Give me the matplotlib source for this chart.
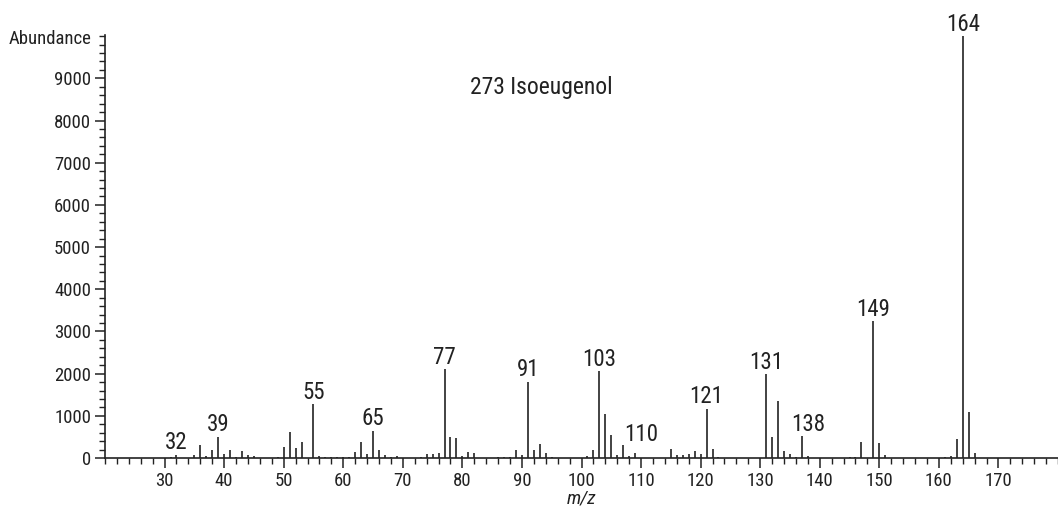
import numpy as np
import matplotlib
matplotlib.use('Agg')
from matplotlib import pyplot as plt
from matplotlib import font_manager
from matplotlib.ticker import MultipleLocator

names = {f.name for f in font_manager.fontManager.ttflist}
for fam in ['Liberation Sans Narrow', 'Roboto Condensed', 'Roboto']:
    if fam in names:
        break
plt.rcParams['font.family'] = [fam, 'DejaVu Sans']

# m/z and abundance of each peak
mz = [31, 32, 35, 36, 37, 38, 39, 40, 41, 42, 43, 44, 45, 49, 50, 51, 52, 53,
      55, 56, 57, 58, 59, 60, 61, 62, 63, 64, 65, 66, 67, 68, 69, 70, 73, 74,
      75, 76, 77, 78, 79, 80, 81, 82, 85, 86, 87, 88, 89, 90, 91, 92, 93, 94,
      95, 96, 100, 101, 102, 103, 104, 105, 106, 107, 108, 109, 115, 116, 117,
      118, 119, 120, 121, 122, 123, 124, 131, 132, 133, 134, 135, 136, 137,
      138, 145, 146, 147, 149, 150, 151, 161, 162, 163, 164, 165, 166, 167]
abund = [25, 70, 70, 310, 50, 190, 500, 90, 190, 30, 160, 80, 40, 20, 260, 610,
         240, 380, 1270, 50, 30, 20, 20, 20, 30, 140, 390, 100, 640, 190, 60, 20,
         40, 10, 15, 100, 100, 110, 2100, 500, 480, 40, 150, 120, 10, 20, 30, 20,
         200, 80, 1810, 200, 340, 130, 30, 10, 10, 50, 190, 2060, 1050, 540, 70,
         310, 50, 120, 210, 70, 70, 100, 170, 100, 1165, 210, 20, 10, 1985, 500,
         1350, 170, 100, 30, 520, 40, 30, 20, 380, 3240, 350, 60, 20, 40, 450,
         10000, 1090, 120, 10]

# peak labels: x position, abundance they sit on, text
lab_x = [32, 39, 55, 65, 77, 91, 103, 110, 121, 131, 138, 149, 164]
lab_y = [70, 500, 1270, 640, 2100, 1810, 2060, 270, 1165, 1985, 500, 3240, 10000]
lab_t = ['32', '39', '55', '65', '77', '91', '103', '110', '121', '131', '138',
         '149', '164']

TXT = '#222222'

fig = plt.figure(figsize=(10.58, 5.14), dpi=100)
ax = fig.add_axes([105 / 1058, 1 - 458 / 514, 1 - 105 / 1058, (458 - 34.5) / 514])

ax.vlines(mz, 0, abund, colors='#222222', linewidth=1.2)

for x, y, t in zip(lab_x, lab_y, lab_t):
    ax.annotate(t, (x, y), xytext=(0, 4), textcoords='offset points',
                ha='center', va='baseline', fontsize=16.5, color=TXT)

ax.set_xlim(20, 180)
ax.set_ylim(0, 10040)
ax.xaxis.set_minor_locator(MultipleLocator(2))
ax.yaxis.set_minor_locator(MultipleLocator(200))
ax.set_xticks(np.arange(30, 171, 10))
ax.set_yticks(np.arange(0, 9001, 1000))

for s in ['top', 'right']:
    ax.spines[s].set_visible(False)
for s in ['left', 'bottom']:
    ax.spines[s].set_linewidth(1.2)
    ax.spines[s].set_color('#222222')

ax.tick_params(which='major', length=7, width=1.1, color='#222222',
               labelsize=13.5, labelcolor=TXT, pad=3)
ax.tick_params(which='minor', length=4.5, width=1.0, color='#222222')

ax.annotate('Abundance', (0, 1), xycoords='axes fraction', xytext=(-10, -3),
            textcoords='offset points', ha='right', va='center', fontsize=13.5,
            color=TXT)
ax.set_xlabel('m/z', fontstyle='italic', fontsize=14, color=TXT, labelpad=0)
ax.text(0.4575, 0.876, '273 Isoeugenol', transform=ax.transAxes, ha='center',
        va='center', fontsize=17, color=TXT)

fig.savefig('out.png', dpi=100)
